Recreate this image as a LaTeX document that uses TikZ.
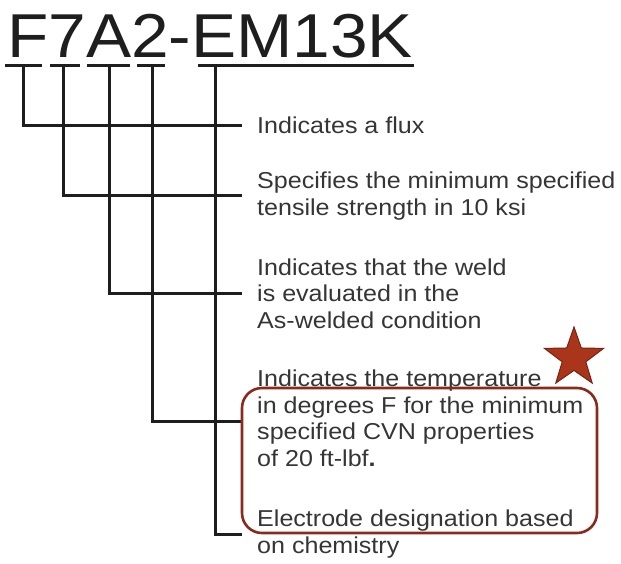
\documentclass[tikz,border=0pt]{standalone}
\usepackage{fontspec}
\setmainfont{Liberation Sans}
\usetikzlibrary{shapes.geometric}
\definecolor{txt}{HTML}{353535}
\definecolor{ln}{HTML}{1E1E1E}
\definecolor{boxred}{HTML}{8A2A1C}
\definecolor{starfill}{HTML}{A9361B}
\definecolor{starline}{HTML}{7A2212}
\begin{document}
\begin{tikzpicture}[x=1pt,y=-1pt,
  lab/.style={anchor=base west, inner sep=0pt, align=left, text=txt, xscale=1.09,
    font=\fontsize{23}{26.5}\selectfont},
  wire/.style={draw=ln, line width=3pt},
  uline/.style={draw=ln, line width=3pt}]
\useasboundingbox (0,0) rectangle (621,563);
% title
\node[anchor=base west, inner sep=0pt, text=ln, xscale=1.09,
  font=\fontsize{62}{62}\selectfont] (title) at (7,57) {F7A2-EM13K};
% underlines
\draw[uline] (5,65) -- (42,65);
\draw[uline] (50,65) -- (80,65);
\draw[uline] (87,65) -- (130,65);
\draw[uline] (137,65) -- (165,65);
\draw[uline] (198,65) -- (414,65);
\coordinate (u1) at (23,65);
\coordinate (u2) at (63,65);
\coordinate (u3) at (109,65);
\coordinate (u4) at (152,65);
\coordinate (u5) at (215,65);
\coordinate (e1) at (242,125);
\coordinate (e2) at (242,195);
\coordinate (e3) at (242,293);
\coordinate (e4) at (242,421);
\coordinate (e5) at (242,534);
\draw[wire] (u1) |- (e1);
\draw[wire] (u2) |- (e2);
\draw[wire] (u3) |- (e3);
\draw[wire] (u4) |- (e4);
\draw[wire] (u5) |- (e5);
% labels (base anchor = baseline of the last line)
\node[lab] (t1) at (257,133) {Indicates a flux};
\node[lab] (t2) at (257,215) {Specifies the minimum specified\\tensile strength in 10 ksi};
\node[lab] (t3) at (257,328) {Indicates that the weld\\is evaluated in the\\As-welded condition};
\node[lab] (t4) at (257,466) {Indicates the temperature\\in degrees F for the minimum\\specified CVN properties\\of 20 ft-lbf\textbf{.}};
\node[lab] (t5) at (257,553) {Electrode designation based\\on chemistry};
% highlight box
\node[draw=boxred, line width=2.6pt, rounded corners=20pt, minimum width=355pt,
  minimum height=145pt, inner sep=0pt] (box) at (419.5,460.5) {};
% star
\node[star, star points=5, star point ratio=2.5, minimum size=62pt, inner sep=0pt,
  fill=starfill, draw=starline, line width=1pt] (star) at (574,358) {};
\end{tikzpicture}
\end{document}
